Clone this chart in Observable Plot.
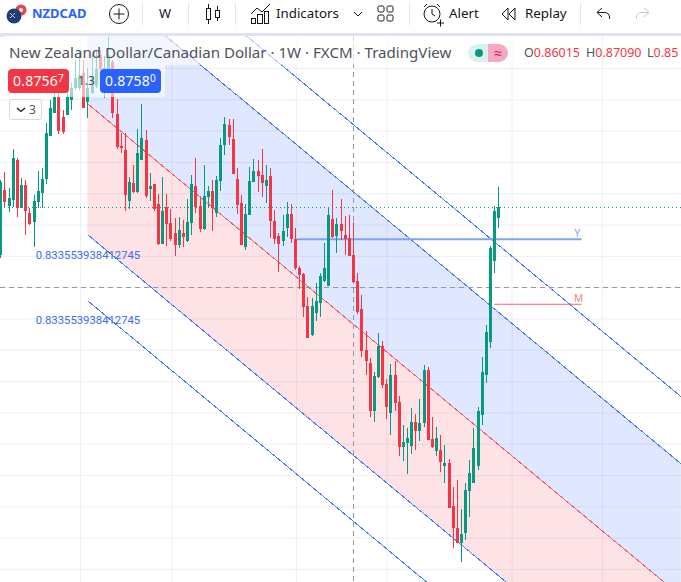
<!DOCTYPE html>
<html><head><meta charset="utf-8">
<script src="https://cdn.jsdelivr.net/npm/d3@7"></script>
<script src="https://cdn.jsdelivr.net/npm/@observablehq/plot@0.6"></script>
<style>
html,body{margin:0;padding:0;background:#fff;width:681px;height:582px;overflow:hidden;font-family:"Noto Sans",sans-serif;color:#131722}
#bar{position:absolute;left:0;top:0;width:681px;height:33px;background:#fff}
#sep{position:absolute;left:0;top:33px;width:681px;height:4px;background:#e0e3eb}
#chart{position:absolute;left:0;top:36px;width:681px;height:546px;overflow:hidden;border-top-left-radius:7px;background:#fff}
#chart svg{display:block}
.t{position:absolute;white-space:nowrap;line-height:1}
.s{position:absolute;width:1px;top:3px;height:22px;background:#e0e3eb}
.band{position:absolute;background:rgba(255,255,255,.6)}
.box{position:absolute;top:33px;height:24px;width:61px;border-radius:4px;color:#fff;font-size:14px;line-height:24px;text-align:center;letter-spacing:.2px}
.box sup{font-size:10px;line-height:0;vertical-align:4px}
svg.i{position:absolute;fill:none;stroke:#131722;stroke-width:1}
</style></head><body>
<div id="bar">
 <svg class="i" style="left:5px;top:3px;stroke:none" width="24" height="22"><circle cx="16" cy="7" r="5.5" fill="#e8444f"/><circle cx="16" cy="7" r="2" fill="#fff"/><circle cx="9" cy="13" r="7.5" fill="#1c3f7c"/><path d="M5 10l5 5M10 10l-5 5" stroke="#e8c0c4" stroke-width="1"/></svg>
 <div class="t" style="left:32px;top:7px;font-size:13px;font-weight:700;color:#2962ff">NZDCAD</div>
 <svg class="i" style="left:108px;top:3px" width="22" height="22"><circle cx="11" cy="11" r="9.5"/><path d="M11 5.5v11M5.5 11h11"/></svg>
 <div class="s" style="left:142px"></div>
 <div class="t" style="left:159px;top:7px;font-size:13px">W</div>
 <div class="s" style="left:188px"></div>
 <svg class="i" style="left:204px;top:3px" width="18" height="22"><rect x="2.5" y="5.5" width="4" height="11"/><path d="M4.5 1v4M4.5 17v4"/><rect x="11.5" y="7.5" width="4" height="7"/><path d="M13.5 3v4M13.5 15v3"/></svg>
 <div class="s" style="left:235px"></div>
 <svg class="i" style="left:250px;top:3px" width="22" height="22"><path d="M1 11l6-6 5 4 8-8"/><rect x="1.5" y="15.5" width="4" height="5"/><rect x="7.5" y="11.5" width="5" height="9"/><rect x="14.5" y="8.5" width="4" height="12"/></svg>
 <div class="t" style="left:276px;top:7px;font-size:13.3px">Indicators</div>
 <svg class="i" style="left:353px;top:11px" width="10" height="6"><path d="M1 1l4 4 4-4"/></svg>
 <svg class="i" style="left:377px;top:5px" width="18" height="18"><rect x="1" y="1" width="6" height="6" rx="1.5"/><rect x="10" y="1" width="6" height="6" rx="1.5"/><rect x="1" y="10" width="6" height="6" rx="1.5"/><rect x="10" y="10" width="6" height="6" rx="1.5"/></svg>
 <div class="s" style="left:409px"></div>
 <svg class="i" style="left:422px;top:3px" width="22" height="24"><circle cx="10" cy="11" r="8"/><path d="M10 6v5l3 2M2 4l3-3M18 4l-3-3M15 20h7M18.5 16.5v7"/></svg>
 <div class="t" style="left:449px;top:7px;font-size:13.3px">Alert</div>
 <svg class="i" style="left:501px;top:7px" width="17" height="14"><path d="M7 1L1 7l6 6zM14 1L8 7l6 6z"/></svg>
 <div class="t" style="left:525px;top:7px;font-size:13.3px">Replay</div>
 <div class="s" style="left:580px"></div>
 <svg class="i" style="left:596px;top:7px" width="15" height="13"><path d="M6 1L1 5.500 6 10M1 5.500h8a4.500 4.500 0 0 1 4.500 4.500v2"/></svg>
 <svg class="i" style="left:635px;top:7px;stroke:#c8cad0" width="15" height="13"><path d="M9 1l5 4.500L9 10M14 5.500H6A4.500 4.500 0 0 0 1.500 10v2"/></svg>
</div>
<div id="sep"></div>
<div id="chart"></div>
<script>
// Weekly NZD/CAD bars
const open = [.86800,.87840,.87584,.87680,.88320,.87552,.87920,.87472,.87328,.87648,.87792,.88016,.88704,.89072,.89328,.89008,.89040,.89280,.89472,.89472,.89712,.89248,.89392,.89504,.90000,.89552,.89760,.89888,.89056,.88544,.88480,.87664,.87952,.87808,.88320,.88640,.87856,.87936,.87616,.86976,.87568,.87312,.87152,.86960,.87152,.87024,.87312,.87904,.87584,.87216,.87728,.87824,.87472,.87984,.88560,.88880,.88656,.88016,.87632,.86928,.87440,.87968,.88144,.88080,.87904,.88064,.87344,.87104,.87024,.87232,.87456,.87056,.86592,.86496,.85984,.85520,.85872,.86032,.86384,.86304,.87376,.87104,.87296,.87120,.87072,.86800,.86384,.85936,.85280,.85072,.84304,.84848,.85344,.84736,.84272,.84880,.84448,.83728,.83792,.83744,.84128,.83984,.84112,.84960,.83856,.83664,.83680,.83424,.83472,.82784,.82432,.82192,.82352,.83024,.83152,.83424,.84240,.84880,.85408,.86704,.87392];
const close = [.87968,.87648,.87712,.88352,.87552,.87920,.87504,.87296,.87664,.87824,.88016,.88752,.89152,.89328,.88784,.88768,.89328,.89472,.89632,.89680,.89152,.89472,.89664,.89776,.89776,.89792,.90000,.89072,.88528,.88512,.87760,.87968,.87808,.88432,.88672,.87744,.87904,.87536,.86976,.87504,.87296,.87056,.86960,.87200,.87088,.87328,.87936,.87568,.87216,.87744,.87824,.87552,.88000,.88560,.88896,.88688,.88096,.87600,.86960,.87456,.87984,.88144,.88064,.87952,.88000,.87344,.87056,.86976,.87184,.87456,.87056,.86592,.86480,.85968,.85472,.85984,.86064,.86464,.86592,.87440,.87088,.87296,.87184,.87056,.86784,.86368,.85888,.85264,.85104,.84304,.84864,.85344,.84720,.84368,.84880,.84432,.83728,.83808,.83872,.84128,.83984,.84112,.84960,.83840,.83728,.83872,.83488,.83472,.82752,.82432,.82192,.82336,.83040,.83312,.83712,.84304,.84928,.85568,.86912,.87504,.87568];
const high = [.88000,.88128,.87872,.88496,.88352,.88032,.88000,.87552,.87760,.88144,.88192,.88912,.89280,.89440,.89408,.89120,.89472,.89552,.89920,.90080,.89920,.89792,.90032,.90064,.90080,.89984,.90288,.89920,.89296,.88752,.88752,.88048,.88240,.88816,.89216,.88800,.88112,.87936,.87776,.88048,.87776,.87536,.87392,.87408,.87360,.87696,.88080,.88352,.87744,.88240,.87904,.88000,.88064,.88672,.89008,.88976,.88976,.88192,.87760,.87616,.88208,.88336,.88320,.88496,.88240,.88192,.87520,.87152,.87440,.87648,.87616,.87232,.86624,.86512,.86128,.86112,.86352,.86512,.86992,.87552,.87840,.87392,.87696,.87424,.87440,.87328,.86512,.86160,.85584,.85152,.84928,.85552,.85424,.84816,.85056,.85104,.84544,.84080,.84032,.84352,.84256,.84496,.85040,.85008,.84208,.84048,.83920,.83760,.83536,.83088,.83200,.82736,.83152,.83520,.84032,.84368,.85168,.85680,.86944,.87584,.87888];
const low = [.86752,.87568,.87488,.87568,.87408,.87552,.87120,.87280,.86928,.87552,.87552,.87936,.88704,.89072,.88736,.88736,.89040,.89120,.89440,.89440,.89152,.88992,.89376,.89472,.89760,.89312,.89760,.88992,.88496,.88432,.87504,.87536,.87792,.87792,.88320,.87712,.87664,.87504,.86960,.86976,.86944,.87024,.86784,.86912,.86928,.87008,.87120,.87472,.87168,.87200,.87568,.87184,.87408,.87824,.88400,.88560,.88096,.87456,.86960,.86880,.87440,.87968,.87808,.87728,.87632,.87072,.86976,.86528,.86944,.87088,.86992,.86560,.86256,.85808,.85472,.85504,.85744,.85808,.86368,.86304,.87072,.86832,.87040,.86800,.86784,.86352,.85856,.85168,.84880,.84208,.84128,.84832,.84672,.84176,.83920,.84304,.83584,.83504,.83296,.83616,.83680,.83824,.84048,.83840,.83712,.83584,.83328,.83152,.82752,.82112,.82192,.81888,.82240,.82608,.83152,.83360,.84080,.84752,.85312,.86512,.87232];

// Parallel channel, as bar index and price at each end
const channelBars = [21, 164];
const outerUpper = [.92419, .84536];
const innerUpper = [.91344, .83462];
const midLine = [.89224, .81344];
const innerLower = [.87128, .79248];
const outerLower = [.86072, .78192];

// Horizontal levels and crosshair
const lastPrice = .87567;
const crossPrice = .86288;
const crossBar = 85;
const levelY = {from: 71.4, to: 140.1, price: .87061};
const levelM = {from: 119, to: 140.1, price: .86020};

// Grid
const gridPrices = [.89792,.89291,.88790,.88289,.87788,.87287,.86786,.86285,.85784,.85283,.84782,.84281,.83780,.83279,.82778,.82277,.81776];
const gridBars = [19.2,41.25,71.2,93.1,123.2,145];

// Texts on the chart
const notes = [
  {bar: 8.4, price: .86800, text: "0.833553938412745", color: "#3a6bf0", size: 11.3},
  {bar: 8.4, price: .85760, text: "0.833553938412745", color: "#3a6bf0", size: 11.3},
  {bar: 138.2, price: .87152, text: "Y", color: "#7fa0f0", size: 10},
  {bar: 138.2, price: .86100, text: "M", color: "#f08a8a", size: 10}
];

const GREEN = "#089981", RED = "#f23645", BLUE = "#2962ff";
const candles = open.map((o, i) => ({i, o, c: close[i], h: high[i], l: low[i], dir: close[i] >= o ? "up" : "down"}));
const band = channelBars.map((b, i) => ({b, top: innerUpper[i], mid: midLine[i], bot: innerLower[i]}));
const seg = (ys) => channelBars.map((b, i) => ({b, p: ys[i]}));

const chart = Plot.plot({
  width: 681, height: 546,
  marginTop: 0, marginRight: 0, marginBottom: 0, marginLeft: 0,
  style: {background: "transparent", overflow: "hidden"},
  x: {type: "linear", domain: [0, 164], range: [0.3, 680.9], axis: null},
  y: {type: "linear", domain: [.81568, .90304], range: [546, 0], axis: null},
  color: {domain: ["up", "down"], range: [GREEN, RED]},
  marks: [
    Plot.ruleY(gridPrices, {stroke: "#eeeff3", strokeWidth: 1}),
    Plot.ruleX(gridBars, {stroke: "#eeeff3", strokeWidth: 1}),
    Plot.areaY(band, {x: "b", y1: "mid", y2: "top", fill: BLUE, fillOpacity: .15, clip: true}),
    Plot.areaY(band, {x: "b", y1: "bot", y2: "mid", fill: RED, fillOpacity: .14, clip: true}),
    ...[outerUpper, innerUpper, innerLower, outerLower].map(ys => Plot.line(seg(ys), {x: "b", y: "p", stroke: "#4a7df5", strokeWidth: 1, shapeRendering: "crispEdges", clip: true})),
    Plot.line(seg(midLine), {x: "b", y: "p", stroke: "#f5606a", strokeWidth: 1, shapeRendering: "crispEdges", clip: true}),
    Plot.ruleY([lastPrice], {stroke: GREEN, strokeWidth: 1, strokeDasharray: "1,3"}),
    Plot.ruleY([crossPrice], {stroke: "#9598a1", strokeWidth: 1, strokeDasharray: "5,4"}),
    Plot.ruleX([crossBar], {stroke: "#9598a1", strokeWidth: 1, strokeDasharray: "5,4"}),
    Plot.ruleY([levelY], {x1: "from", x2: "to", y: "price", stroke: "#7fa3fb", strokeWidth: 2}),
    Plot.ruleY([levelM], {x1: "from", x2: "to", y: "price", stroke: "#f2666f", strokeWidth: 1}),
    Plot.ruleX(candles, {x: "i", y1: "l", y2: "h", stroke: "dir", strokeWidth: 1, shapeRendering: "crispEdges"}),
    Plot.ruleX(candles, {x: "i", y1: "o", y2: "c", stroke: "dir", strokeWidth: 3, shapeRendering: "crispEdges"}),
    Plot.text(notes, {x: "bar", y: "price", text: "text", fill: "color", fontSize: "size", textAnchor: "start", fontFamily: "Roboto"})
  ]
});
const host = document.getElementById("chart");
host.appendChild(chart);
const over = document.createElement("div");
over.innerHTML = `
 <div class="band" style="left:0;top:0;width:515px;height:29px"></div>
 <div class="band" style="left:0;top:29px;width:165px;height:32px"></div>
 <div class="t" style="left:9px;top:9px;font-size:15.1px;color:#4f525c" id="title">New Zealand Dollar/Canadian Dollar · 1W · FXCM · TradingView</div>
 <div style="position:absolute;left:468px;top:8px;width:20px;height:18px;background:#daf2ed;border-radius:9px 0 0 9px"><div style="position:absolute;left:6.500px;top:5px;width:8px;height:8px;border-radius:4px;background:#089981"></div></div>
 <div style="position:absolute;left:488px;top:8px;width:20px;height:18px;background:#f7a9c4;border-radius:0 9px 9px 0;text-align:center;font-size:14px;line-height:17px;color:#c2185b">≈</div>
 <div class="t" style="left:524px;top:11px;font-size:12.500px;color:#50535e">O<span style="color:#f23645">0.86015</span></div>
 <div class="t" style="left:586px;top:11px;font-size:12.500px;color:#50535e">H<span style="color:#f23645">0.87090</span></div>
 <div class="t" style="left:647px;top:11px;font-size:12.500px;color:#50535e">L<span style="color:#f23645">0.85</span></div>
 <div class="box" style="left:8px;background:#f23645">0.8756<sup>7</sup></div>
 <div class="t" style="left:78px;top:39px;font-size:12px;color:#50535e">1.3</div>
 <div class="box" style="left:100px;background:#2962ff">0.8758<sup>0</sup></div>
 <div style="position:absolute;left:9px;top:63px;width:31px;height:19px;background:#fff;border:1px solid #d6d8de;border-radius:3px;font-size:12px;line-height:19px;color:#50535e"><svg width="10" height="6" style="position:absolute;left:6px;top:7px;fill:none;stroke:#131722;stroke-width:1.300"><path d="M1 1l4 3.500L9 1"/></svg><span style="position:absolute;left:19px">3</span></div>`;
host.appendChild(over);
</script>
</body></html>
